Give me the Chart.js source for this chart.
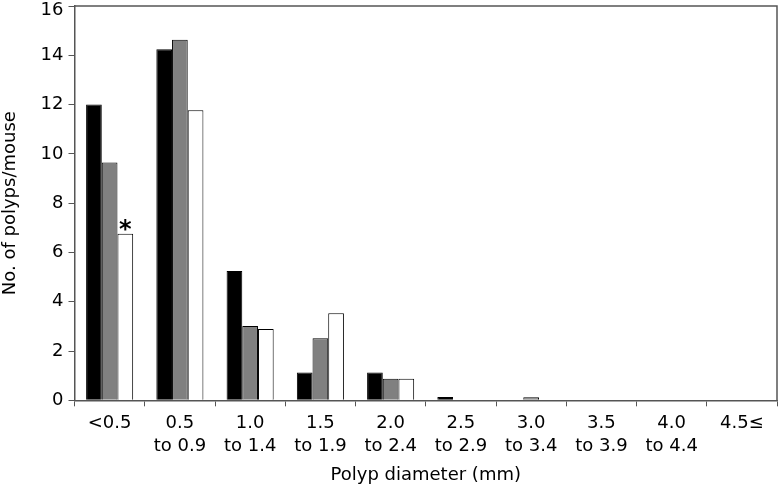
<!DOCTYPE html>
<html>
<head>
<meta charset="UTF-8">
<title>Polyp diameter</title>
<script src="https://cdn.jsdelivr.net/npm/chart.js"></script>
<style>
  html, body { margin: 0; padding: 0; background: #fff; }
  #wrap { width: 782px; height: 490px; }
</style>
</head>
<body>
<div id="wrap"><canvas id="polypChart"></canvas></div>
<script>
  const categories = [
    ['<0.5'], ['0.5', 'to 0.9'], ['1.0', 'to 1.4'], ['1.5', 'to 1.9'], ['2.0', 'to 2.4'],
    ['2.5', 'to 2.9'], ['3.0', 'to 3.4'], ['3.5', 'to 3.9'], ['4.0', 'to 4.4'], ['4.5≤']
  ];
  const blackValues = [12.0, 14.25, 5.25, 1.13, 1.13, 0.13, 0, 0, 0, 0];
  const grayValues  = [9.65, 14.63, 3.02, 2.52, 0.88, 0, 0.12, 0, 0, 0];
  const whiteValues = [6.76, 11.77, 2.89, 3.53, 0.88, 0, 0, 0, 0, 0];

  // frame around the plot area + the asterisk on the first white bar
  const framePlugin = {
    id: 'frame',
    afterDatasetsDraw(chart) {
      const { ctx, chartArea: a } = chart;
      ctx.save();
      ctx.strokeStyle = '#555';
      ctx.lineWidth = 1.5;
      ctx.beginPath();
      ctx.moveTo(a.left, a.top);
      ctx.lineTo(a.right, a.top);
      ctx.lineTo(a.right, a.bottom);
      ctx.stroke();

      const bar = chart.getDatasetMeta(2).data[0];
      ctx.fillStyle = '#000';
      ctx.font = 'bold 24px "DejaVu Sans"';
      ctx.textAlign = 'center';
      ctx.textBaseline = 'bottom';
      ctx.fillText('*', bar.x, bar.y + 9);
      ctx.restore();
    }
  };

  const font18 = { family: 'DejaVu Sans', size: 18 };

  const ctx = document.getElementById('polypChart').getContext('2d');
  new Chart(ctx, {
    type: 'bar',
    data: {
      labels: categories,
      datasets: [
        { data: blackValues, backgroundColor: '#000', borderColor: '#000', borderWidth: 1 },
        { data: grayValues, backgroundColor: '#808080', borderColor: '#000', borderWidth: 1 },
        { data: whiteValues, backgroundColor: '#fff', borderColor: '#000', borderWidth: 1 }
      ]
    },
    options: {
      responsive: true,
      maintainAspectRatio: false,
      animation: false,
      layout: { padding: { top: 0, right: 5, left: 0, bottom: 0 } },
      datasets: { bar: { barPercentage: 1, categoryPercentage: 0.67 } },
      plugins: { legend: { display: false }, tooltip: { enabled: false } },
      scales: {
        x: {
          grid: { display: true, drawOnChartArea: false, drawTicks: true, tickLength: 6, color: '#555', offset: true },
          border: { display: true, color: '#555', width: 1.5 },
          ticks: { color: '#000', font: { family: 'DejaVu Sans', size: 18, lineHeight: 1.28 }, maxRotation: 0, padding: 5 },
          title: { display: true, text: 'Polyp diameter (mm)', color: '#000', font: font18, padding: { top: 2, bottom: 4 } }
        },
        y: {
          min: 0,
          max: 16,
          afterFit(scale) { scale.paddingTop = 6; },
          ticks: {
            stepSize: 2,
            color: '#000',
            padding: 5,
            // top label sits a little below its tick so it is not cut off
            callback: v => v === 16 ? ['', '16'] : String(v),
            font: c => (c.tick && c.tick.value === 16)
              ? { family: 'DejaVu Sans', size: 18, lineHeight: 0.45 }
              : font18
          },
          grid: { display: true, drawOnChartArea: false, drawTicks: true, tickLength: 6, color: '#555' },
          border: { display: true, color: '#555', width: 1.5 },
          title: { display: true, text: 'No. of polyps/mouse', color: '#000', font: font18, padding: { top: 0, bottom: 14 } }
        }
      }
    },
    plugins: [framePlugin]
  });
</script>
</body>
</html>
